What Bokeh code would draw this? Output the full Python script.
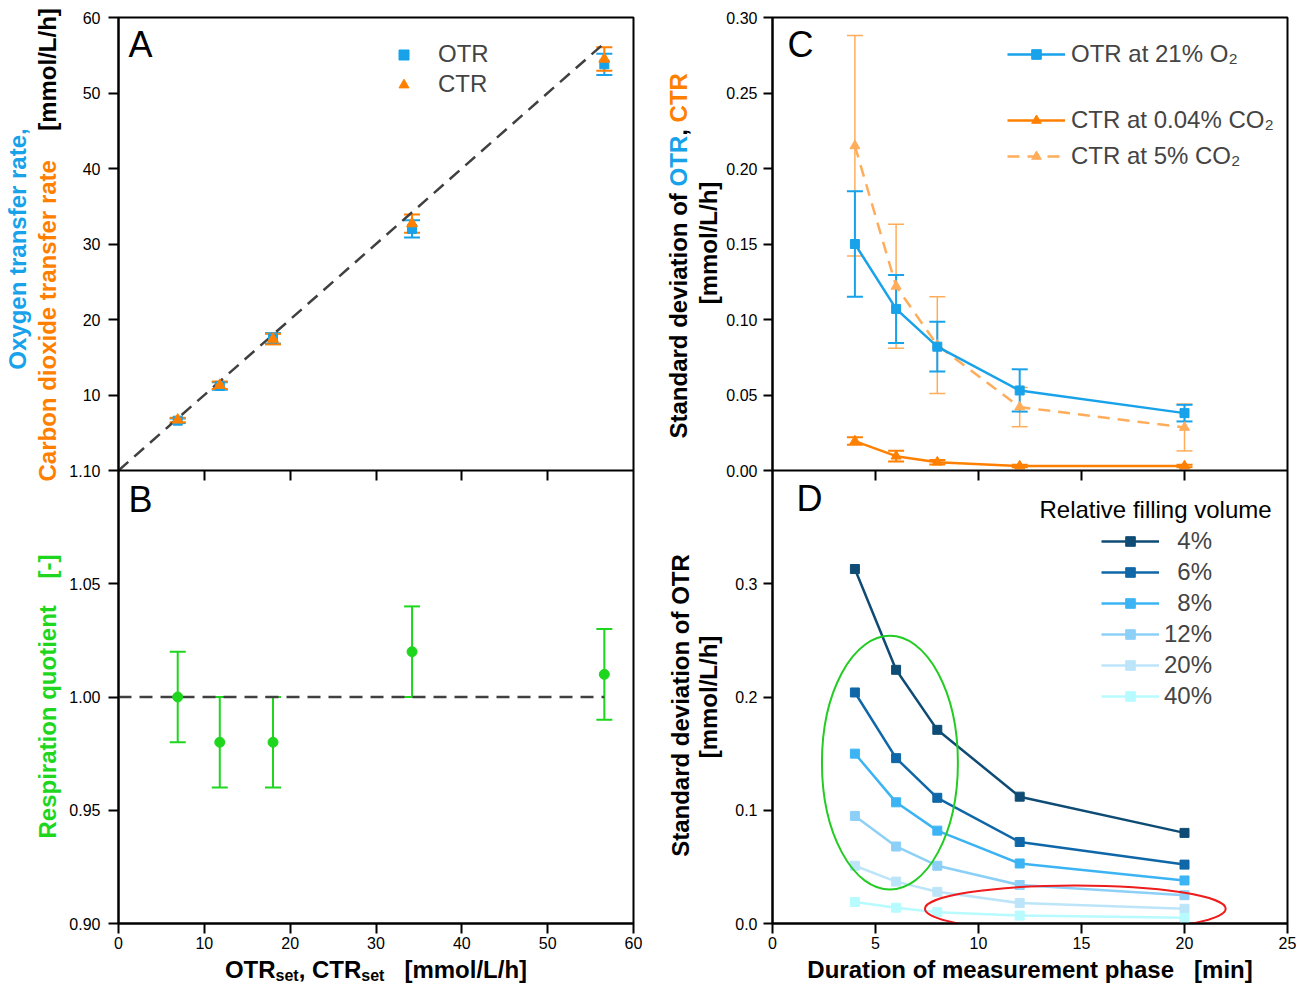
import math
from bokeh.plotting import figure
from bokeh.models import (Range1d, LinearAxis, FixedTicker, CustomJSTickFormatter,
                          Whisker, TeeHead, ColumnDataSource, Legend, LegendItem, Label)
from bokeh.layouts import row, column
from bokeh.embed import file_html
from bokeh.resources import INLINE

# ---------------- data: panels A and B ----------------
OTR_SET = [6.9, 11.8, 18.0, 34.2, 56.6]
OTR_MEASURED = [6.6, 11.2, 17.5, 32.0, 53.8]
OTR_MEASURED_SD = [0.3, 0.5, 0.7, 1.15, 1.4]
CTR_MEASURED = [6.7, 11.3, 17.4, 32.7, 54.5]
CTR_MEASURED_SD = [0.3, 0.5, 0.7, 1.2, 1.55]
RQ = [1.00, 0.98, 0.98, 1.02, 1.01]
RQ_SD = [0.02, 0.02, 0.02, 0.02, 0.02]
RQ_IDEAL = 1.0

# ---------------- data: panel C ----------------
DURATION = [4, 6, 8, 12, 20]
SD_OTR_21 = [0.150, 0.107, 0.082, 0.053, 0.038]
SD_OTR_21_ERR = [0.035, 0.0225, 0.0165, 0.014, 0.0055]
SD_CTR_004 = [0.0195, 0.0095, 0.0055, 0.003, 0.003]
SD_CTR_004_ERR = [0.0025, 0.0035, 0.0015, 0.0008, 0.0008]
SD_CTR_5 = [0.215, 0.122, 0.083, 0.042, 0.0285]
SD_CTR_5_ERR = [0.073, 0.041, 0.032, 0.013, 0.0155]

# ---------------- data: panel D ----------------
FILLING_LABELS = ["4%", "6%", "8%", "12%", "20%", "40%"]
SD_OTR_F4 = [0.313, 0.224, 0.171, 0.112, 0.080]
SD_OTR_F6 = [0.204, 0.146, 0.111, 0.072, 0.052]
SD_OTR_F8 = [0.150, 0.107, 0.082, 0.053, 0.038]
SD_OTR_F12 = [0.095, 0.068, 0.051, 0.034, 0.025]
SD_OTR_F20 = [0.051, 0.037, 0.028, 0.018, 0.013]
SD_OTR_F40 = [0.019, 0.014, 0.010, 0.007, 0.005]

# highlight ellipses in D: (x, y, width, height)
GREEN_ELLIPSE = (5.7, 0.142, 6.6, 0.224)
RED_ELLIPSE = (14.7, 0.013, 14.6, 0.041)

# ---------------- axes ----------------
RANGE_A = (0, 60)
RANGE_B = (0.90, 1.10)
RANGE_C = (0.0, 0.30)
RANGE_D = (0.0, 0.40)
TICKS_A = [10, 20, 30, 40, 50, 60]
TICKS_B = [0.90, 0.95, 1.00, 1.05, 1.10]
TICKS_X_LEFT = [0, 10, 20, 30, 40, 50, 60]
TICKS_C = [0.00, 0.05, 0.10, 0.15, 0.20, 0.25, 0.30]
TICKS_D = [0.0, 0.1, 0.2, 0.3]
TICKS_X_RIGHT = [0, 5, 10, 15, 20, 25]

FONT = "Liberation Sans"
BLUE = "#17a2ea"
ORANGE = "#ff8000"
LORANGE = "#ffad5b"
GREEN = "#1ed61e"
DGRAY = "#404040"
D_COLORS = ["#0f4c75", "#0f67a8", "#3cb4f4", "#8dd0f7", "#bde5f9", "#b7fbff"]

FRAME_W, FRAME_H = 515, 906
TOP, BOTTOM = 17, 32
TOTAL_H = 984
STRIP_H = TOTAL_H - (TOP + FRAME_H + BOTTOM)
TL_W, TR_W = 66, 78
PL_LEFT, PL_RIGHT = 51, 12
PR_LEFT, PR_RIGHT = 47, 9
DY = TOP - 14  # vertical shift of the side title strips relative to the earlier layout
R90 = math.pi / 2

BOLD = {' ': 278, '\u00a0': 278, ',': 278, 'O': 778, 'T': 611, 'R': 722, 'C': 722, 's': 556, 'e': 556,
        't': 333, '[': 333, ']': 333, 'm': 889, 'o': 611, 'l': 278, '/': 278, 'L': 611, 'h': 611,
        'S': 667, 'a': 556, 'n': 611, 'd': 611, 'r': 389, 'v': 556, 'i': 278, 'f': 333}


def bw(s, size):
    return sum(BOLD[c] for c in s) * size / 1000.0


def stacked(lo, hi):
    # the panel's own range occupies one half of a frame shared by two panels
    return lo, hi + (hi - lo)


def make_fig(xr, yr_top, name, yr_bottom, left, right):
    span = yr_top[1] - yr_top[0]
    p = figure(frame_width=FRAME_W, frame_height=FRAME_H,
               x_range=Range1d(*xr), y_range=Range1d(yr_top[0] - span, yr_top[1]),
               output_backend="svg", toolbar_location=None,
               x_axis_location=None, y_axis_location=None,
               min_border_left=left, min_border_right=right,
               min_border_top=TOP, min_border_bottom=BOTTOM)
    p.extra_y_ranges = {name: Range1d(*stacked(*yr_bottom))}
    p.grid.visible = False
    p.outline_line_color = "black"
    p.outline_line_width = 2
    p.background_fill_color = "white"
    p.border_fill_color = "white"
    return p


def blank(fw, fh, left=0, right=0):
    f = figure(frame_width=fw, frame_height=fh, x_range=Range1d(0, fw), y_range=Range1d(fh, 0),
               output_backend="svg", toolbar_location=None,
               x_axis_location=None, y_axis_location=None,
               min_border_left=left, min_border_right=right, min_border_top=0, min_border_bottom=0)
    f.grid.visible = False
    f.outline_line_color = None
    f.background_fill_color = "white"
    f.border_fill_color = "white"
    return f


def style(ax, tick_out=10, standoff=8, labels=True):
    ax.axis_line_width = 2
    ax.axis_line_color = "black"
    ax.major_tick_line_width = 2
    ax.major_tick_line_color = "black"
    ax.major_tick_out = tick_out
    ax.major_tick_in = 0
    ax.minor_tick_line_color = None
    ax.major_label_text_font = FONT
    ax.major_label_text_font_size = "16px"
    ax.major_label_text_color = "black"
    ax.major_label_standoff = standoff
    if not labels:
        ax.formatter = CustomJSTickFormatter(code="return ''")
    return ax


def combined_y_axis(top_ticks, top_fmt, bottom_ticks, bottom_fmt, top_range, bottom_range, tick_out, standoff):
    # one axis for two stacked panels: bottom panel values are mapped onto the shared frame scale
    t_lo, t_hi = top_range
    b_lo, b_hi = bottom_range
    span = t_hi - t_lo
    overrides = {}
    ticks = []
    for v in top_ticks:
        k = round(v, 9)
        ticks.append(k)
        overrides[k] = top_fmt % v
    for v in bottom_ticks:
        k = round(t_lo - span + (v - b_lo) / (b_hi - b_lo) * span, 9)
        ticks.append(k)
        overrides[k] = bottom_fmt % v
    ax = LinearAxis(ticker=FixedTicker(ticks=ticks), major_label_overrides=overrides)
    return style(ax, tick_out=tick_out, standoff=standoff)


def label_screen(p, x, y, s, size=24, color="black", bold=False):
    p.add_layout(Label(x=x, y=y, x_units="screen", y_units="screen", text=s, text_font=FONT,
                       text_font_size=f"{size}px", text_font_style="bold" if bold else "normal",
                       text_color=color, text_align="left", text_baseline="middle"))


def label_data(p, x, y, s, size=24, color="black", bold=True, angle=0.0, align="left"):
    p.add_layout(Label(x=x, y=y, text=s, text_font=FONT,
                       text_font_size=f"{size}px", text_font_style="bold" if bold else "normal",
                       text_color=color, angle=angle, text_align=align, text_baseline="middle"))


def whisker(p, src, up, lo, color, width=2, yname="default"):
    p.add_layout(Whisker(source=src, base="x", upper=up, lower=lo, line_color=color, line_width=width,
                         y_range_name=yname,
                         upper_head=TeeHead(size=16, line_color=color, line_width=width),
                         lower_head=TeeHead(size=16, line_color=color, line_width=width)))


# ====================== left column: A + B ======================
pl = make_fig((0, 60), RANGE_A, "B", RANGE_B, PL_LEFT, PL_RIGHT)
pl.add_layout(combined_y_axis(TICKS_A, "%d", TICKS_B, "%.2f", RANGE_A, RANGE_B, 10, 8), "left")
pl.add_layout(style(LinearAxis(ticker=FixedTicker(ticks=TICKS_X_LEFT)), standoff=3), "below")
pl.add_layout(style(LinearAxis(ticker=FixedTicker(ticks=TICKS_X_LEFT[1:-1]), fixed_location=0),
                    labels=False), "below")

srcA = ColumnDataSource(dict(
    x=OTR_SET, otr=OTR_MEASURED, ctr=CTR_MEASURED,
    otr_hi=[v + e for v, e in zip(OTR_MEASURED, OTR_MEASURED_SD)],
    otr_lo=[v - e for v, e in zip(OTR_MEASURED, OTR_MEASURED_SD)],
    ctr_hi=[v + e for v, e in zip(CTR_MEASURED, CTR_MEASURED_SD)],
    ctr_lo=[v - e for v, e in zip(CTR_MEASURED, CTR_MEASURED_SD)],
    rq=RQ,
    rq_hi=[v + e for v, e in zip(RQ, RQ_SD)],
    rq_lo=[v - e for v, e in zip(RQ, RQ_SD)],
))

xmax = max(OTR_SET)
pl.line([0, xmax], [0, xmax], line_color=DGRAY, line_width=2.5, line_dash="13 8")
whisker(pl, srcA, "otr_hi", "otr_lo", BLUE)
whisker(pl, srcA, "ctr_hi", "ctr_lo", ORANGE)
rA_otr = pl.scatter("x", "otr", source=srcA, marker="square", size=9, color=BLUE)
rA_ctr = pl.scatter("x", "ctr", source=srcA, marker="triangle", size=11, color=ORANGE)

pl.line([0, xmax], [RQ_IDEAL, RQ_IDEAL], y_range_name="B", line_color=DGRAY, line_width=2.5, line_dash="13 8")
whisker(pl, srcA, "rq_hi", "rq_lo", GREEN, yname="B")
pl.scatter("x", "rq", source=srcA, y_range_name="B", marker="circle", size=10, color=GREEN)

pl.add_layout(Legend(items=[LegendItem(label="OTR", renderers=[rA_otr]),
                            LegendItem(label="CTR", renderers=[rA_ctr])],
                     location=(273, 825), padding=0, margin=0, spacing=2,
                     glyph_width=25, glyph_height=25, label_height=25, label_standoff=22,
                     border_line_color=None, background_fill_alpha=0,
                     label_text_font=FONT, label_text_font_size="24px"))

label_screen(pl, 10, 879, "A", size=36)
label_screen(pl, 10, 424, "B", size=36)

# ====================== right column: C + D ======================
pr = make_fig((0, 25), RANGE_C, "D", RANGE_D, PR_LEFT, PR_RIGHT)
pr.add_layout(combined_y_axis(TICKS_C, "%.2f", TICKS_D, "%.1f", RANGE_C, RANGE_D, 9, 6), "left")
pr.add_layout(style(LinearAxis(ticker=FixedTicker(ticks=TICKS_X_RIGHT)), standoff=3), "below")
pr.add_layout(style(LinearAxis(ticker=FixedTicker(ticks=TICKS_X_RIGHT[1:-1]), fixed_location=0),
                    labels=False), "below")

srcC = ColumnDataSource(dict(
    x=DURATION, otr=SD_OTR_21, c004=SD_CTR_004, c5=SD_CTR_5,
    otr_hi=[v + e for v, e in zip(SD_OTR_21, SD_OTR_21_ERR)],
    otr_lo=[v - e for v, e in zip(SD_OTR_21, SD_OTR_21_ERR)],
    c004_hi=[v + e for v, e in zip(SD_CTR_004, SD_CTR_004_ERR)],
    c004_lo=[v - e for v, e in zip(SD_CTR_004, SD_CTR_004_ERR)],
    c5_hi=[v + e for v, e in zip(SD_CTR_5, SD_CTR_5_ERR)],
    c5_lo=[v - e for v, e in zip(SD_CTR_5, SD_CTR_5_ERR)],
))

whisker(pr, srcC, "c5_hi", "c5_lo", LORANGE, width=1.5)
whisker(pr, srcC, "otr_hi", "otr_lo", BLUE)
whisker(pr, srcC, "c004_hi", "c004_lo", ORANGE)
rC5_l = pr.line("x", "c5", source=srcC, line_color=LORANGE, line_width=2.5, line_dash="12 8")
rC5_p = pr.scatter("x", "c5", source=srcC, marker="triangle", size=10, color=LORANGE)
rCo_l = pr.line("x", "otr", source=srcC, line_color=BLUE, line_width=2.5)
rCo_p = pr.scatter("x", "otr", source=srcC, marker="square", size=9, color=BLUE)
rC4_l = pr.line("x", "c004", source=srcC, line_color=ORANGE, line_width=2.5)
rC4_p = pr.scatter("x", "c004", source=srcC, marker="triangle", size=10, color=ORANGE)

legkw = dict(padding=0, margin=0, glyph_width=58, glyph_height=24, label_height=24, label_standoff=6,
             border_line_color=None, background_fill_alpha=0,
             label_text_font=FONT, label_text_font_size="24px")
pr.add_layout(Legend(items=[LegendItem(label="OTR at 21% O\u2082", renderers=[rCo_l, rCo_p])],
                     location=(235, 855), spacing=4, **legkw))
pr.add_layout(Legend(items=[LegendItem(label="CTR at 0.04% CO\u2082", renderers=[rC4_l, rC4_p]),
                            LegendItem(label="CTR at 5% CO\u2082", renderers=[rC5_l, rC5_p])],
                     location=(235, 753), spacing=8, **legkw))

d_series = [SD_OTR_F4, SD_OTR_F6, SD_OTR_F8, SD_OTR_F12, SD_OTR_F20, SD_OTR_F40]
d_items = []
for lab, vals, col in zip(FILLING_LABELS, d_series, D_COLORS):
    rl = pr.line(DURATION, vals, y_range_name="D", line_color=col, line_width=2.5)
    rp = pr.scatter(DURATION, vals, y_range_name="D", marker="square", size=9, color=col)
    d_items.append(LegendItem(label=lab.rjust(3, "\u2007"), renderers=[rl, rp]))

for (ex, ey, ew, eh), col in [(GREEN_ELLIPSE, "#22cc22"), (RED_ELLIPSE, "#ee1c1c")]:
    pr.ellipse(x=[ex], y=[ey], width=[ew], height=[eh], y_range_name="D",
               fill_color=None, line_color=col, line_width=2)

legkwD = dict(legkw)
legkwD["label_standoff"] = 5
pr.add_layout(Legend(items=d_items, location=(329, 213), spacing=3, **legkwD))
label_screen(pr, 267, 414, "Relative filling volume", size=24)

label_screen(pr, 15, 879, "C", size=36)
label_screen(pr, 24, 425, "D", size=36)

# ====================== title strips (outside the frames) ======================
tl = blank(TL_W, TOTAL_H)
label_data(tl, 17, 245.5 + DY, "Oxygen transfer rate,", color=BLUE, angle=R90, align="center")
label_data(tl, 47, 478 + DY, "Carbon dioxide transfer rate", color=ORANGE, angle=R90)
label_data(tl, 47, 66 + DY, "[mmol/L/h]", angle=R90, align="center")
label_data(tl, 47, 693 + DY, "Respiration quotient\u00a0\u00a0\u00a0\u00a0[-]", color=GREEN, angle=R90,
           align="center")

tr = blank(TR_W, TOTAL_H)
yy = 435 + DY
for s, col, adv in [("Standard deviation of", "black", "Standard deviation of "),
                    ("OTR", BLUE, "OTR"), (",", "black", ", "), ("CTR", ORANGE, "CTR")]:
    label_data(tr, 33, yy, s, color=col, angle=R90)
    yy -= bw(adv, 24)
label_data(tr, 63.4, 239.5 + DY, "[mmol/L/h]", angle=R90, align="center")
label_data(tr, 34.5, 702 + DY, "Standard deviation of OTR", angle=R90, align="center")
label_data(tr, 63.4, 693.5 + DY, "[mmol/L/h]", angle=R90, align="center")

# x titles: strips whose frames line up with the panels above them
bl = blank(FRAME_W, STRIP_H, PL_LEFT, PL_RIGHT)
segs = [("OTR", 24, 0.0), ("set", 16, 6.3), (", CTR", 24, 0.0), ("set", 16, 6.3),
        ("\u00a0\u00a0\u00a0[mmol/L/h]", 24, 0.0)]
total = sum(bw(s, z) for s, z, _ in segs)
cx = FRAME_W / 2 - total / 2
for s, z, dy in segs:
    label_data(bl, cx, 13.5 + dy, s, size=z)
    cx += bw(s, z)

br = blank(FRAME_W, STRIP_H, PR_LEFT, PR_RIGHT)
label_data(br, FRAME_W / 2, 13.5, "Duration of measurement phase\u00a0\u00a0\u00a0[min]", align="center")

layout = row(tl, column(pl, bl), tr, column(pr, br))
open("out.html", "w").write(file_html(layout, INLINE))
